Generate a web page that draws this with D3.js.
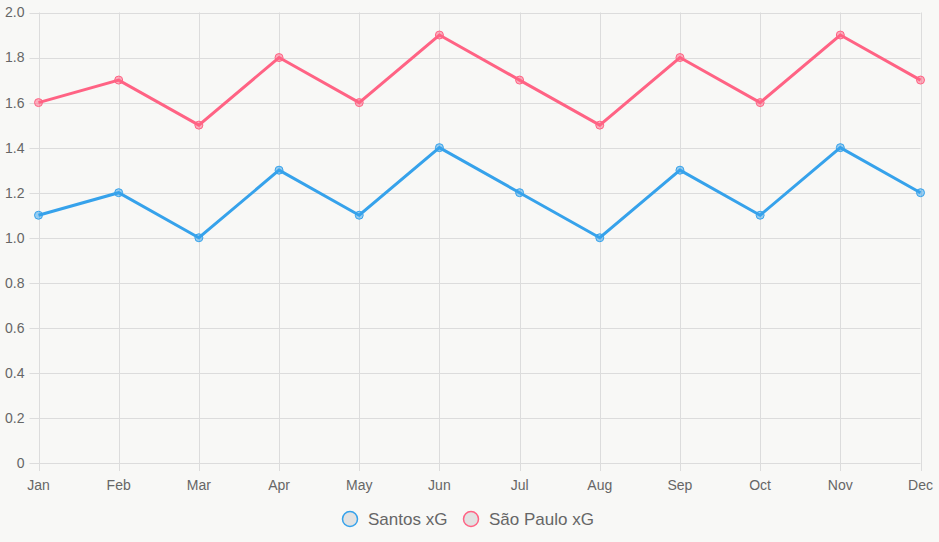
<!DOCTYPE html>
<html>
<head>
<meta charset="utf-8">
<script src="https://cdn.jsdelivr.net/npm/d3@7"></script>
<style>
  html, body { margin: 0; padding: 0; background: #f8f8f6; }
  svg { display: block; font-family: "Liberation Sans", Arial, sans-serif; }
</style>
</head>
<body>
<svg id="chart" width="939" height="542"></svg>
<script>
const months = ["Jan", "Feb", "Mar", "Apr", "May", "Jun", "Jul", "Aug", "Sep", "Oct", "Nov", "Dec"];
const santos = [1.1, 1.2, 1.0, 1.3, 1.1, 1.4, 1.2, 1.0, 1.3, 1.1, 1.4, 1.2];
const saoPaulo = [1.6, 1.7, 1.5, 1.8, 1.6, 1.9, 1.7, 1.5, 1.8, 1.6, 1.9, 1.7];
const yTicks = [0, 0.2, 0.4, 0.6, 0.8, 1.0, 1.2, 1.4, 1.6, 1.8, 2.0];

const series = [
  { name: "Santos xG", values: santos, color: "#36a2eb", fill: "rgba(54,162,235,0.5)" },
  { name: "São Paulo xG", values: saoPaulo, color: "#ff6384", fill: "rgba(255,99,132,0.5)" }
];

const plotLeft = 38.5, plotRight = 920.5, plotTop = 12.5, plotBottom = 463;
const gridColor = "#dcdcdc";

const svg = d3.select("#chart");

const x = d3.scalePoint().domain(months).range([plotLeft, plotRight]);
const y = d3.scaleLinear().domain([0, 2]).range([plotBottom, plotTop]);

// vertical grid + ticks
svg.append("g")
  .selectAll("line")
  .data(months)
  .join("line")
  .attr("x1", d => Math.round(x(d)) + 0.5).attr("x2", d => Math.round(x(d)) + 0.5)
  .attr("y1", plotTop).attr("y2", plotBottom + 8)
  .attr("stroke", gridColor).attr("stroke-width", 1);

// horizontal grid + ticks
svg.append("g")
  .selectAll("line")
  .data(yTicks)
  .join("line")
  .attr("x1", plotLeft - 9).attr("x2", plotRight)
  .attr("y1", d => Math.round(y(d)) + 0.5).attr("y2", d => Math.round(y(d)) + 0.5)
  .attr("stroke", gridColor).attr("stroke-width", 1);

// y labels
svg.append("g")
  .selectAll("text")
  .data(yTicks)
  .join("text")
  .attr("x", plotLeft - 14)
  .attr("y", d => y(d))
  .attr("dy", "0.35em")
  .attr("text-anchor", "end")
  .attr("font-size", 14)
  .attr("fill", "#666")
  .text(d => d === 0 ? "0" : d.toFixed(1));

// x labels
svg.append("g")
  .selectAll("text")
  .data(months)
  .join("text")
  .attr("x", d => x(d))
  .attr("y", plotBottom + 27)
  .attr("text-anchor", "middle")
  .attr("font-size", 14)
  .attr("fill", "#666")
  .text(d => d);

const line = d3.line()
  .x((d, i) => x(months[i]))
  .y(d => y(d));

series.forEach(s => {
  svg.append("path")
    .datum(s.values)
    .attr("d", line)
    .attr("fill", "none")
    .attr("stroke", s.color)
    .attr("stroke-width", 3)
    .attr("stroke-linejoin", "miter");

  svg.append("g")
    .selectAll("circle")
    .data(s.values)
    .join("circle")
    .attr("cx", (d, i) => x(months[i]))
    .attr("cy", d => y(d))
    .attr("r", 4)
    .attr("fill", s.fill)
    .attr("stroke", s.color)
    .attr("stroke-width", 1);
});

// legend
const legendX = [350, 471];
const legend = svg.append("g")
  .selectAll("g")
  .data(series)
  .join("g")
  .attr("transform", (d, i) => `translate(${legendX[i]},519)`);

legend.append("circle")
  .attr("r", 7.5)
  .attr("fill", "#e2e2e2")
  .attr("stroke", d => d.color)
  .attr("stroke-width", 1.5);

legend.append("text")
  .attr("x", 18)
  .attr("dy", "0.35em")
  .attr("font-size", 17)
  .attr("fill", "#666")
  .text(d => d.name);
</script>
</body>
</html>
